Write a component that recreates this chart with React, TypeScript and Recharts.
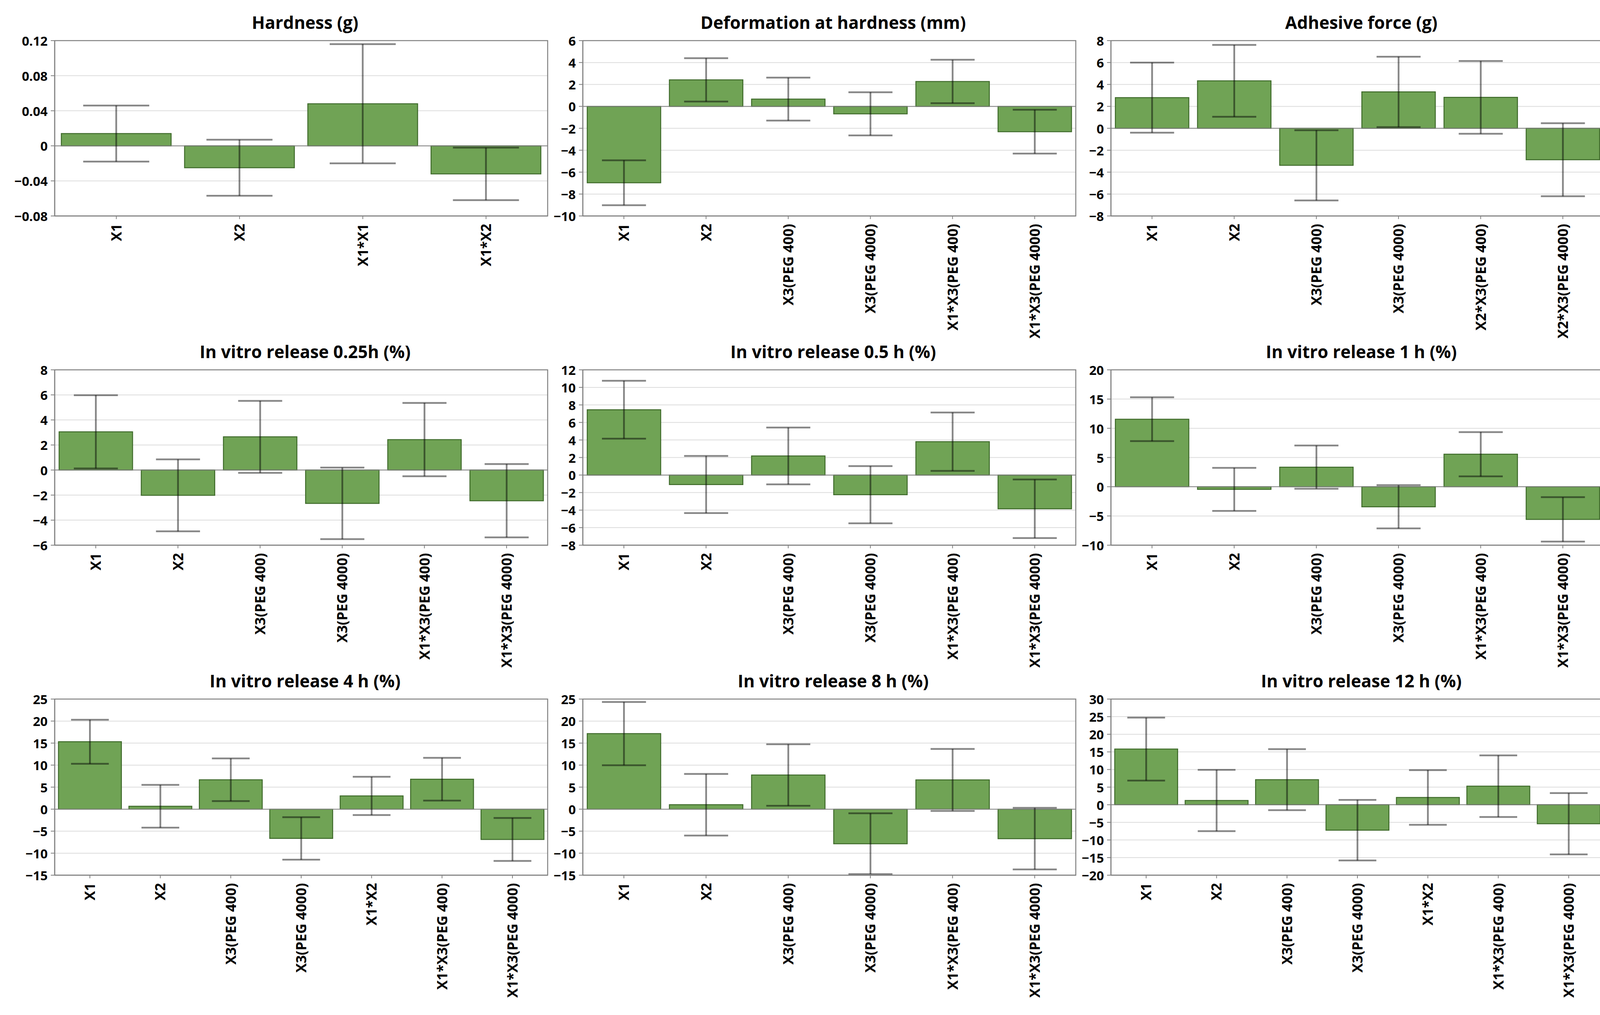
import React from 'react';
import {
  BarChart, Bar, XAxis, YAxis, CartesianGrid, ErrorBar, ReferenceLine, ReferenceArea,
} from 'recharts';

const FONT = '"Open Sans", "Noto Sans", sans-serif';
const GREEN = '#70a355';
const GREEN_EDGE = '#3f6b2b';
const FRAME = '#808080';
const GRID = '#dcdcdc';

// model terms
const hardnessTerms = ['X1', 'X2', 'X1*X1', 'X1*X2'];
const termsX1 = ['X1', 'X2', 'X3(PEG 400)', 'X3(PEG 4000)', 'X1*X3(PEG 400)', 'X1*X3(PEG 4000)'];
const termsX2 = ['X1', 'X2', 'X3(PEG 400)', 'X3(PEG 4000)', 'X2*X3(PEG 400)', 'X2*X3(PEG 4000)'];
const termsSeven = ['X1', 'X2', 'X3(PEG 400)', 'X3(PEG 4000)', 'X1*X2', 'X1*X3(PEG 400)', 'X1*X3(PEG 4000)'];

// coefficient estimates and half-width of the confidence intervals
const hardnessEffect = [0.014, -0.025, 0.048, -0.032];
const hardnessCI = [0.032, 0.032, 0.068, 0.030];
const deformEffect = [-6.97, 2.42, 0.66, -0.68, 2.27, -2.31];
const deformCI = [2.05, 1.98, 1.96, 1.97, 1.98, 2.0];
const adhesiveEffect = [2.8, 4.33, -3.38, 3.32, 2.82, -2.87];
const adhesiveCI = [3.2, 3.28, 3.2, 3.21, 3.32, 3.33];
const rel025Effect = [3.05, -2.02, 2.65, -2.66, 2.43, -2.45];
const rel025CI = [2.92, 2.87, 2.87, 2.86, 2.93, 2.93];
const rel05Effect = [7.45, -1.08, 2.18, -2.24, 3.8, -3.85];
const rel05CI = [3.3, 3.26, 3.24, 3.26, 3.33, 3.34];
const rel1Effect = [11.55, -0.45, 3.35, -3.43, 5.56, -5.59];
const rel1CI = [3.75, 3.68, 3.7, 3.7, 3.79, 3.8];
const rel4Effect = [15.3, 0.65, 6.67, -6.65, 3.0, 6.8, -6.88];
const rel4CI = [5.0, 4.85, 4.85, 4.82, 4.35, 4.86, 4.88];
const rel8Effect = [17.15, 1.0, 7.75, -7.85, 6.63, -6.7];
const rel8CI = [7.18, 7.0, 6.98, 6.9, 7.05, 7.0];
const rel12Effect = [15.8, 1.2, 7.12, -7.22, 2.05, 5.27, -5.4];
const rel12CI = [8.94, 8.7, 8.65, 8.6, 7.76, 8.75, 8.7];

// y ticks
const hardnessTicks = [-0.08, -0.04, 0, 0.04, 0.08, 0.12];
const deformTicks = [-10, -8, -6, -4, -2, 0, 2, 4, 6];
const deformMinor = [-9, -7, -5, -3, -1, 1, 3, 5];
const adhesiveTicks = [-8, -6, -4, -2, 0, 2, 4, 6, 8];
const adhesiveMinor = [-7, -5, -3, -1, 1, 3, 5, 7];
const rel025Ticks = [-6, -4, -2, 0, 2, 4, 6, 8];
const rel025Minor = [-5, -3, -1, 1, 3, 5, 7];
const rel05Ticks = [-8, -6, -4, -2, 0, 2, 4, 6, 8, 10, 12];
const rel05Minor = [-7, -5, -3, -1, 1, 3, 5, 7, 9, 11];
const rel1Ticks = [-10, -5, 0, 5, 10, 15, 20];
const rel1Minor = [-7.5, -2.5, 2.5, 7.5, 12.5, 17.5];
const rel48Ticks = [-15, -10, -5, 0, 5, 10, 15, 20, 25];
const rel48Minor = [-12.5, -7.5, -2.5, 2.5, 7.5, 12.5, 17.5, 22.5];
const rel12Ticks = [-20, -15, -10, -5, 0, 5, 10, 15, 20, 25, 30];
const rel12Minor = [-17.5, -12.5, -7.5, -2.5, 2.5, 7.5, 12.5, 17.5, 22.5, 27.5];

interface Panel {
  title: string;
  terms: string[];
  effect: number[];
  ci: number[];
  ticks: number[];
  minor: number[];
}

const panels: Panel[] = [
  { title: 'Hardness (g)', terms: hardnessTerms, effect: hardnessEffect, ci: hardnessCI, ticks: hardnessTicks, minor: [] },
  { title: 'Deformation at hardness (mm)', terms: termsX1, effect: deformEffect, ci: deformCI, ticks: deformTicks, minor: deformMinor },
  { title: 'Adhesive force (g)', terms: termsX2, effect: adhesiveEffect, ci: adhesiveCI, ticks: adhesiveTicks, minor: adhesiveMinor },
  { title: 'In vitro release 0.25h (%)', terms: termsX1, effect: rel025Effect, ci: rel025CI, ticks: rel025Ticks, minor: rel025Minor },
  { title: 'In vitro release 0.5 h (%)', terms: termsX1, effect: rel05Effect, ci: rel05CI, ticks: rel05Ticks, minor: rel05Minor },
  { title: 'In vitro release 1 h (%)', terms: termsX1, effect: rel1Effect, ci: rel1CI, ticks: rel1Ticks, minor: rel1Minor },
  { title: 'In vitro release 4 h (%)', terms: termsSeven, effect: rel4Effect, ci: rel4CI, ticks: rel48Ticks, minor: rel48Minor },
  { title: 'In vitro release 8 h (%)', terms: termsX1, effect: rel8Effect, ci: rel8CI, ticks: rel48Ticks, minor: rel48Minor },
  { title: 'In vitro release 12 h (%)', terms: termsSeven, effect: rel12Effect, ci: rel12CI, ticks: rel12Ticks, minor: rel12Minor },
];

// layout
const PLOT_LEFT = 140;
const COL_STEP = 1352;
const PLOT_W = 1262;
const ROW_TOPS = [104, 947, 1790];
const ROW_HEIGHTS = [449, 449, 451];
const Y_W = 130;
const M_TOP = 30;
const M_RIGHT = 12;
const X_H = 330;

function fmt(v: number) {
  if (v === 0) return '0';
  const s = String(Math.abs(v));
  return v < 0 ? '\u2212' + s : s;
}

const YTick = (props: any) => {
  const { x, y, payload } = props;
  return (
    <text x={x} y={y} dy={13} textAnchor="end" fontFamily={FONT} fontWeight={700} fontSize={33} fill="#000">
      {fmt(payload.value)}
    </text>
  );
};

const XTick = (props: any) => {
  const { x, y, payload } = props;
  return (
    <text
      x={x}
      y={y}
      dy={13}
      transform={`rotate(-90 ${x} ${y})`}
      textAnchor="end"
      fontFamily={FONT}
      fontWeight={700}
      fontSize={36}
      fill="#000"
    >
      {payload.value}
    </text>
  );
};

function EffectPanel({ panel, col, row }: { panel: Panel; col: number; row: number }) {
  const plotLeft = PLOT_LEFT + COL_STEP * col;
  const plotTop = ROW_TOPS[row];
  const plotH = ROW_HEIGHTS[row];
  const data = panel.terms.map((term, i) => ({ term, effect: panel.effect[i], ci: panel.ci[i] }));
  const lo = panel.ticks[0];
  const hi = panel.ticks[panel.ticks.length - 1];
  const capHalf = (0.268 * PLOT_W) / panel.terms.length;

  return (
    <>
      <div
        style={{
          position: 'absolute',
          left: plotLeft + 10,
          top: plotTop - 69,
          width: PLOT_W,
          textAlign: 'center',
          fontFamily: FONT,
          fontWeight: 700,
          fontSize: 44,
          lineHeight: '44px',
          color: '#000',
          whiteSpace: 'nowrap',
        }}
      >
        {panel.title}
      </div>
      <div style={{ position: 'absolute', left: plotLeft - Y_W, top: plotTop - M_TOP }}>
        <BarChart
          width={Y_W + PLOT_W + M_RIGHT}
          height={M_TOP + plotH + X_H}
          data={data}
          margin={{ top: M_TOP, right: M_RIGHT, left: 0, bottom: 0 }}
          barCategoryGap="5.4%"
        >
          <CartesianGrid vertical={false} stroke={GRID} strokeWidth={2} />
          <XAxis
            dataKey="term"
            interval={0}
            height={X_H}
            tickSize={8}
            tickMargin={12}
            tickLine={{ stroke: FRAME, strokeWidth: 2 }}
            axisLine={{ stroke: FRAME, strokeWidth: 2.5 }}
            tick={<XTick />}
          />
          <YAxis
            type="number"
            domain={[lo, hi]}
            ticks={panel.ticks}
            interval={0}
            allowDataOverflow
            width={Y_W}
            tickSize={10}
            tickMargin={8}
            tickLine={{ stroke: FRAME, strokeWidth: 2 }}
            axisLine={{ stroke: FRAME, strokeWidth: 2.5 }}
            tick={<YTick />}
          />
          {panel.minor.length > 0 && (
            <YAxis
              yAxisId="minor"
              type="number"
              domain={[lo, hi]}
              ticks={panel.minor}
              interval={0}
              allowDataOverflow
              width={0}
              tickSize={6}
              tick={false}
              tickLine={{ stroke: FRAME, strokeWidth: 2 }}
              axisLine={false}
            />
          )}
          <ReferenceArea y1={lo} y2={hi} fill="none" stroke={FRAME} strokeWidth={2.5} />
          <ReferenceLine y={0} stroke={FRAME} strokeWidth={2} />
          <Bar dataKey="effect" fill={GREEN} stroke={GREEN_EDGE} strokeWidth={2.5} isAnimationActive={false}>
            <ErrorBar dataKey="ci" width={capHalf} stroke="rgba(0,0,0,0.47)" strokeWidth={4.5} isAnimationActive={false} />
          </Bar>
        </BarChart>
      </div>
    </>
  );
}

export default function App() {
  return (
    <div
      style={{
        position: 'absolute',
        left: 0,
        top: 0,
        width: 4153,
        height: 2599,
        background: '#fff',
        overflow: 'hidden',
      }}
    >
      {panels.map((panel, i) => (
        <EffectPanel key={panel.title} panel={panel} col={i % 3} row={Math.floor(i / 3)} />
      ))}
    </div>
  );
}
